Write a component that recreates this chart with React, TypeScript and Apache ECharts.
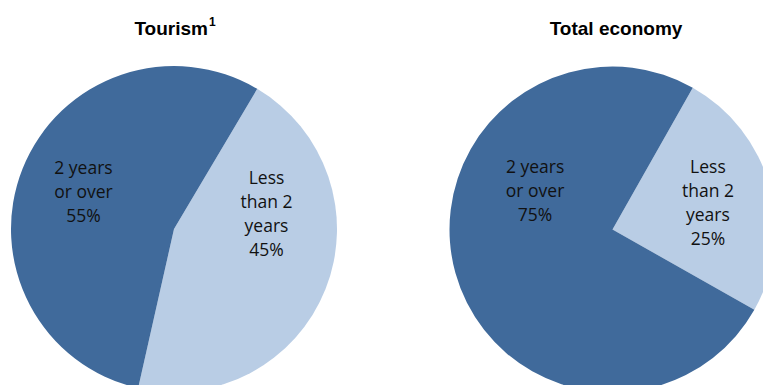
import React, { useEffect, useRef } from "react";
import * as echarts from "echarts";

const categories = ["Less than 2 years", "2 years or over"];
const labelLines = ["Less\nthan 2\nyears", "2 years\nor over"];
const tourismValues = [45, 55];
const totalValues = [25, 75];
const chartTitles = ["Tourism", "Total economy"];
const titleFootnotes = ["1", ""];

const COLORS = ["#B9CDE5", "#406A9B"];

function buildSeries(values: number[], center: number[], startAngle: number, offsets: number[][]) {
  return {
    type: "pie",
    center,
    radius: 163,
    startAngle,
    clockwise: true,
    silent: true,
    avoidLabelOverlap: false,
    itemStyle: { borderWidth: 0 },
    emphasis: { disabled: true },
    labelLine: { show: false },
    label: {
      show: true,
      position: "inside",
      color: "#111",
      fontFamily: "Open Sans",
      fontSize: 17.5,
      lineHeight: 24,
      align: "center",
      formatter: (p: any) => `${labelLines[p.dataIndex]}\n${p.value}%`,
    },
    data: values.map((v, i) => ({
      value: v,
      name: categories[i],
      itemStyle: { color: COLORS[i] },
      label: { offset: offsets[i] },
    })),
  };
}

export default function App() {
  const ref = useRef<HTMLDivElement>(null);
  useEffect(() => {
    if (!ref.current) return;
    const chart = echarts.init(ref.current, undefined, { renderer: "svg" });
    const titleCenters = [175, 616];
    chart.setOption({
      animation: false,
      backgroundColor: "#ffffff",
      graphic: chartTitles.map((t, i) => ({
        type: "text",
        x: titleCenters[i],
        y: 28,
        style: {
          text: titleFootnotes[i] ? `{t|${t}}{s|${titleFootnotes[i]}}` : `{t|${t}}`,
          align: "center",
          verticalAlign: "middle",
          rich: {
            t: { fontFamily: "Liberation Sans", fontWeight: "bold", fontSize: 19, color: "#000" },
            s: { fontFamily: "Liberation Sans", fontWeight: "bold", fontSize: 12, color: "#000", padding: [0, 0, 13, 1] },
          },
        },
      })),
      series: [
        buildSeries(tourismValues, [174, 229], 59.3, [[14, -47], [-12, -7]]),
        buildSeries(totalValues, [612.5, 229.5], 60.5, [[14, -5], [4, -62]]),
      ],
    });
    return () => chart.dispose();
  }, []);
  return (
    <div
      ref={ref}
      style={{ position: "absolute", left: 0, top: 0, width: 763, height: 385 }}
    />
  );
}
